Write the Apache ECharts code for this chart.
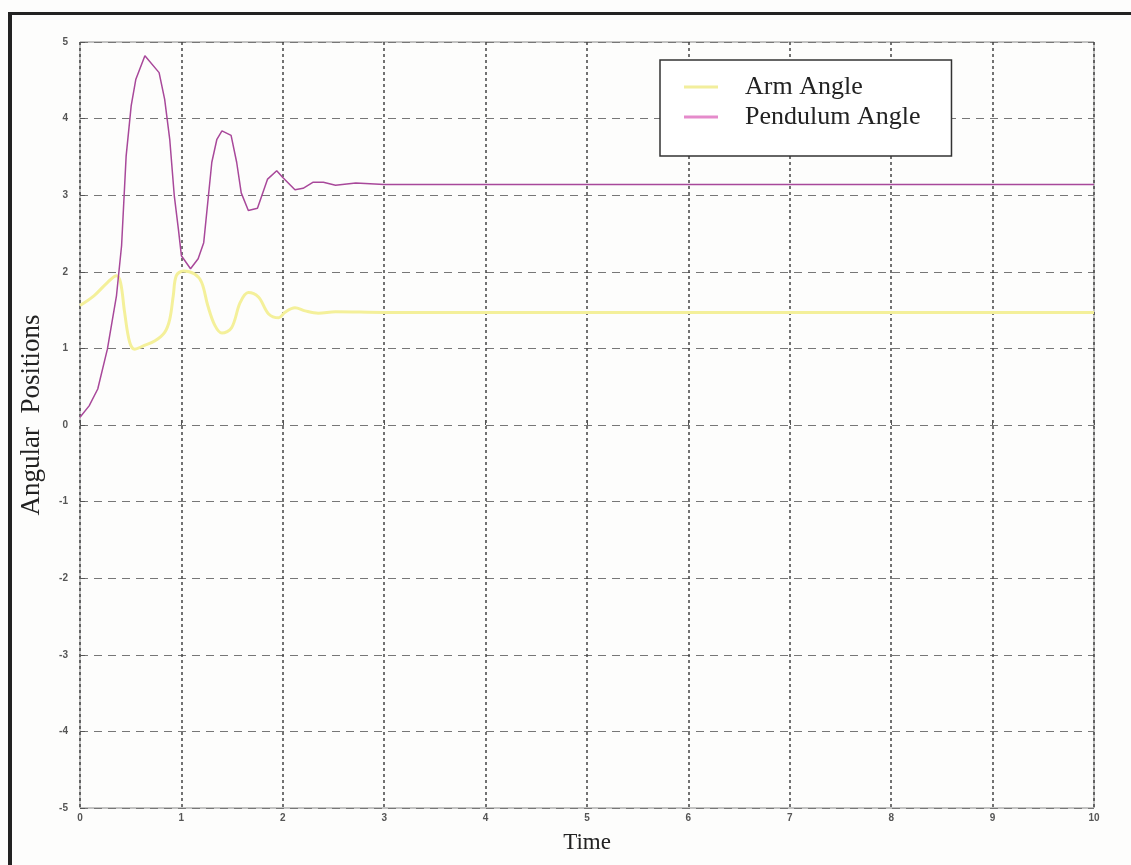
<!DOCTYPE html>
<html>
<head>
<meta charset="utf-8">
<title>Angular Positions</title>
<script src="https://cdn.jsdelivr.net/npm/echarts@6/dist/echarts.min.js"></script>
<style>
  html, body { margin: 0; padding: 0; background: #fdfdfc; }
  #chart { width: 1131px; height: 865px; }
</style>
</head>
<body>
<div id="chart"></div>
<script>
// values
const xTicks = [0, 1, 2, 3, 4, 5, 6, 7, 8, 9, 10]
const yTicks = [-5, -4, -3, -2, -1, 0, 1, 2, 3, 4, 5]

const armTime = [0, 0.14, 0.27, 0.36, 0.40, 0.44, 0.49, 0.54, 0.62, 0.74, 0.835, 0.885, 0.92, 0.95, 1.02, 1.13, 1.20, 1.26, 1.33, 1.40, 1.495, 1.58, 1.66, 1.76, 1.86, 1.96, 2.02, 2.12, 2.22, 2.35, 2.52, 3.0, 10]
const armAngle = [1.56, 1.69, 1.86, 1.95, 1.86, 1.47, 1.08, 0.99, 1.03, 1.10, 1.21, 1.38, 1.69, 1.95, 2.01, 1.97, 1.86, 1.56, 1.30, 1.20, 1.27, 1.60, 1.73, 1.67, 1.45, 1.40, 1.47, 1.53, 1.49, 1.46, 1.48, 1.47, 1.47]

const pendTime = [0, 0.09, 0.175, 0.27, 0.36, 0.41, 0.455, 0.505, 0.55, 0.64, 0.78, 0.835, 0.885, 0.93, 0.97, 1.0, 1.09, 1.165, 1.22, 1.30, 1.35, 1.40, 1.49, 1.545, 1.59, 1.66, 1.75, 1.85, 1.94, 2.0, 2.12, 2.2, 2.3, 2.4, 2.52, 2.72, 3.0, 10]
const pendAngle = [0.1, 0.25, 0.47, 0.99, 1.69, 2.34, 3.51, 4.17, 4.51, 4.82, 4.6, 4.25, 3.73, 2.99, 2.56, 2.21, 2.04, 2.17, 2.38, 3.43, 3.73, 3.84, 3.78, 3.43, 3.03, 2.80, 2.83, 3.21, 3.32, 3.23, 3.07, 3.09, 3.17, 3.17, 3.13, 3.16, 3.14, 3.14]

const seriesNames = ['Arm Angle', 'Pendulum Angle']

const zip = (xs, ys) => xs.map((x, i) => [x, ys[i]])

const chart = echarts.init(document.getElementById('chart'))

const tickLabel = { color: '#555', fontSize: 10, fontWeight: 'bold', fontFamily: 'Liberation Sans' }
const serif = 'Liberation Serif'

chart.setOption({
  animation: false,
  backgroundColor: '#fdfdfc',
  grid: {
    left: 80, right: 37, top: 42, bottom: 57,
    outerBoundsMode: 'none',
    show: true, borderColor: '#888', borderWidth: 1
  },
  legend: {
    data: [
      { name: seriesNames[0], itemStyle: { color: '#f2ee9c' } },
      { name: seriesNames[1], itemStyle: { color: '#e58bcb' } }
    ],
    orient: 'vertical',
    left: 660, top: 60,
    icon: 'rect',
    itemWidth: 34, itemHeight: 3, itemGap: 4,
    padding: [14, 31, 26, 24],
    backgroundColor: '#fff',
    borderColor: '#333', borderWidth: 1.5, borderRadius: 0,
    textStyle: { fontFamily: serif, fontSize: 26, color: '#222', padding: [0, 0, 0, 22] }
  },
  xAxis: {
    type: 'value', min: 0, max: 10, interval: 1,
    name: 'Time', nameLocation: 'middle', nameGap: 23,
    nameTextStyle: { fontFamily: serif, fontSize: 23, color: '#222' },
    axisLine: { show: false },
    axisTick: { show: true, inside: true, length: 5, lineStyle: { color: '#555' } },
    axisLabel: { ...tickLabel, margin: 5, formatter: v => xTicks.includes(v) ? String(v) : '' },
    splitLine: { show: true, lineStyle: { color: '#444', width: 1.5, type: [3, 3] } }
  },
  yAxis: {
    type: 'value', min: -5, max: 5, interval: 1,
    name: 'Angular  Positions', nameLocation: 'middle', nameGap: 35,
    nameTextStyle: { fontFamily: serif, fontSize: 27, color: '#222', padding: [0, 0, 0, 20] },
    axisLine: { show: false },
    axisTick: { show: true, inside: true, length: 5, lineStyle: { color: '#555' } },
    axisLabel: { ...tickLabel, margin: 12, formatter: v => yTicks.includes(v) ? String(v) : '' },
    splitLine: { show: true, lineStyle: { color: '#777', width: 1, type: [8, 6] } }
  },
  series: [
    {
      name: seriesNames[0],
      type: 'line',
      data: zip(armTime, armAngle),
      smooth: 0.35,
      showSymbol: false,
      itemStyle: { color: '#f2ee9c' },
      lineStyle: { color: '#f4f09a', width: 3 },
      z: 2
    },
    {
      name: seriesNames[1],
      type: 'line',
      data: zip(pendTime, pendAngle),
      showSymbol: false,
      itemStyle: { color: '#e58bcb' },
      lineStyle: { color: '#a8489a', width: 1.5 },
      z: 3
    }
  ],
  graphic: [
    // scan frame
    { type: 'rect', left: 8, top: 12, shape: { width: 1123, height: 3 }, style: { fill: '#222' } },
    { type: 'rect', left: 8, top: 12, shape: { width: 4, height: 853 }, style: { fill: '#222' } }
  ]
})
</script>
</body>
</html>
